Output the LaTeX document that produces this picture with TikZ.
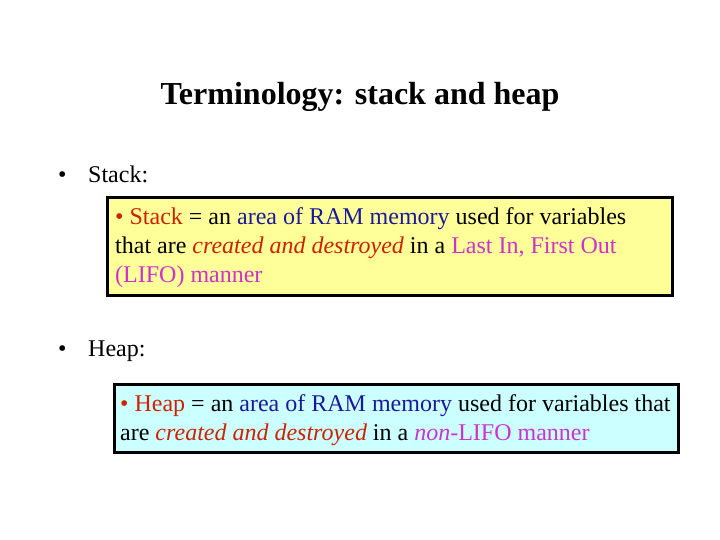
\documentclass[tikz,border=0pt]{standalone}
\usepackage{fontspec}
\setmainfont{Liberation Serif}
\definecolor{cred}{HTML}{CC2200}
\definecolor{cblue}{HTML}{1A1A99}
\definecolor{cmag}{HTML}{CC33CC}
\definecolor{cyel}{HTML}{FFFF99}
\definecolor{ccyan}{HTML}{CCFFFF}
\tikzset{txt/.style={anchor=base west,inner sep=0pt,font=\fontsize{24}{28}\selectfont},
box/.style={draw=black,line width=3pt}}
\begin{document}
\begin{tikzpicture}[x=1pt,y=-1pt]
\useasboundingbox (0,0) rectangle (720,540);
\node[anchor=base,inner sep=0pt,font=\fontsize{32}{36}\selectfont\bfseries] (title) at (360,105) {Terminology: stack and heap};
\node[txt] (b1) at (58,183) {•};
\node[txt] (s1) at (88,183) {Stack:};
\draw[box,fill=cyel] (107,198) rectangle (672,295);
\node[txt] (l1) at (115,225) {\textcolor{cred}{• Stack} = an \textcolor{cblue}{area of RAM memory} used for variables};
\node[txt] (l2) at (115,254) {that are \textcolor{cred}{\itshape created and destroyed} in a \textcolor{cmag}{Last In, First Out}};
\node[txt] (l3) at (115,282) {\textcolor{cmag}{(LIFO) manner}};
\node[txt] (b2) at (58,356) {•};
\node[txt] (h1) at (88,356) {Heap:};
\draw[box,fill=ccyan] (114,384) rectangle (678,452);
\node[txt] (m1) at (120,411) {\textcolor{cred}{• Heap} = an \textcolor{cblue}{area of RAM memory} used for variables that};
\node[txt] (m2) at (120,440) {are \textcolor{cred}{\itshape created and destroyed} in a \textcolor{cmag}{\itshape non}\textcolor{cmag}{-LIFO manner}};
\end{tikzpicture}
\end{document}
